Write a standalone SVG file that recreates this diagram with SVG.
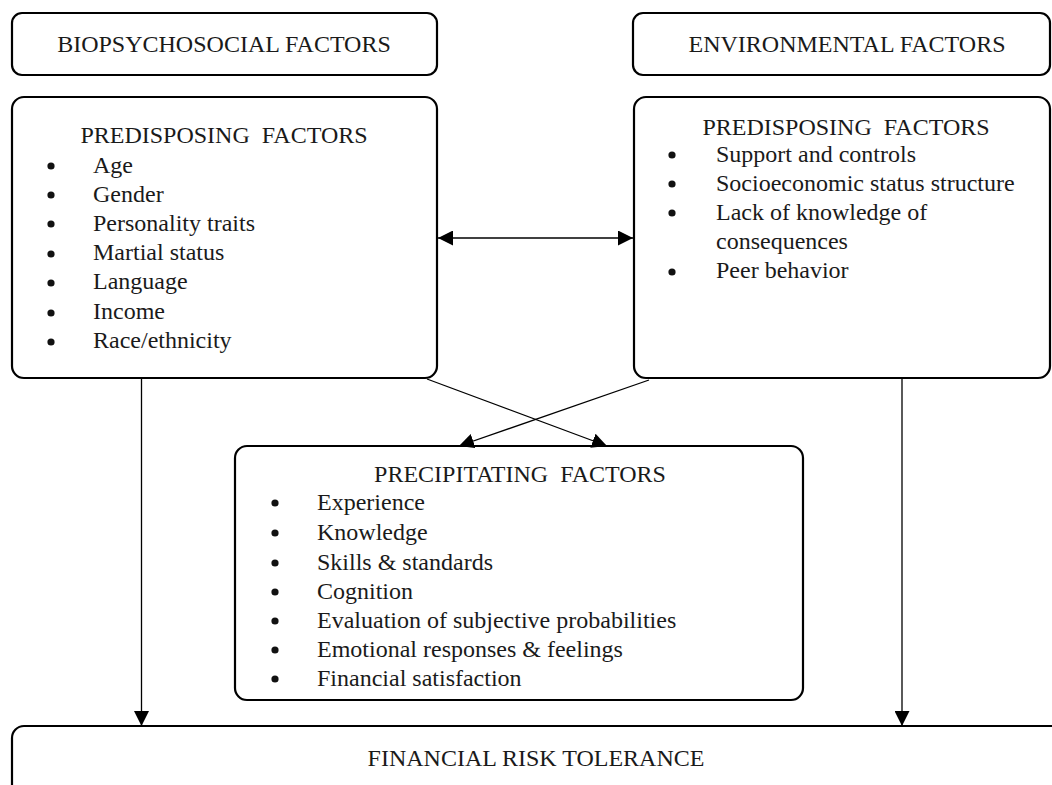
<svg xmlns="http://www.w3.org/2000/svg" width="1052" height="785" viewBox="0 0 1052 785">
  <defs>
    <style>
      .box { fill: #ffffff; stroke: #000000; stroke-width: 2.2; }
      .txt { font-family: "Liberation Serif", "Times New Roman", serif; font-size: 24px; fill: #1a1a1a; }
      .ctr { text-anchor: middle; }
      .bul { fill: #111111; }
      .link { fill: none; stroke: #000000; stroke-width: 1.3; }
    </style>
    <marker id="arrow" markerUnits="userSpaceOnUse" markerWidth="16" markerHeight="15" refX="15" refY="7.5" orient="auto-start-reverse">
      <path d="M0,0 L15,7.5 L0,15 z" fill="#000000"/>
    </marker>
  </defs>

  <rect x="0" y="0" width="1052" height="785" fill="#ffffff"/>

  <!-- Column headers -->
  <g id="biopsychosocial">
    <rect class="box" x="12" y="13" width="425" height="62" rx="10"/>
    <text class="txt ctr" x="224" y="52">BIOPSYCHOSOCIAL FACTORS</text>
  </g>

  <g id="environmental">
    <rect class="box" x="633" y="13" width="417" height="62" rx="10"/>
    <text class="txt ctr" x="847" y="52">ENVIRONMENTAL FACTORS</text>
  </g>

  <!-- Biopsychosocial predisposing factors -->
  <g id="bio-predisposing">
    <rect class="box" x="12" y="97" width="425" height="281" rx="12"/>
    <text class="txt ctr" x="224" y="143" xml:space="preserve">PREDISPOSING  FACTORS</text>
    <g class="bul">
      <circle cx="51" cy="166" r="3.6"/>
      <circle cx="51" cy="195" r="3.6"/>
      <circle cx="51" cy="224" r="3.6"/>
      <circle cx="51" cy="254" r="3.6"/>
      <circle cx="51" cy="283" r="3.6"/>
      <circle cx="51" cy="313" r="3.6"/>
      <circle cx="51" cy="342" r="3.6"/>
    </g>
    <text class="txt" x="93" y="172.5">Age</text>
    <text class="txt" x="93" y="201.5">Gender</text>
    <text class="txt" x="93" y="230.5">Personality traits</text>
    <text class="txt" x="93" y="260">Martial status</text>
    <text class="txt" x="93" y="289">Language</text>
    <text class="txt" x="93" y="319">Income</text>
    <text class="txt" x="93" y="348">Race/ethnicity</text>
  </g>

  <!-- Environmental predisposing factors -->
  <g id="env-predisposing">
    <rect class="box" x="634" y="97" width="416" height="281" rx="12"/>
    <text class="txt ctr" x="846" y="135" xml:space="preserve">PREDISPOSING  FACTORS</text>
    <g class="bul">
      <circle cx="672" cy="155" r="3.6"/>
      <circle cx="672" cy="184" r="3.6"/>
      <circle cx="672" cy="213" r="3.6"/>
      <circle cx="672" cy="272" r="3.6"/>
    </g>
    <text class="txt" x="716" y="161.5">Support and controls</text>
    <text class="txt" x="716" y="190.5">Socioeconomic status structure</text>
    <text class="txt" x="716" y="219.5">Lack of knowledge of</text>
    <text class="txt" x="716" y="248.5">consequences</text>
    <text class="txt" x="716" y="278">Peer behavior</text>
  </g>

  <!-- Precipitating factors -->
  <g id="precipitating">
    <rect class="box" x="235" y="446" width="568" height="254" rx="12"/>
    <text class="txt ctr" x="520" y="481.5" xml:space="preserve">PRECIPITATING  FACTORS</text>
    <g class="bul">
      <circle cx="275" cy="503" r="3.6"/>
      <circle cx="275" cy="533" r="3.6"/>
      <circle cx="275" cy="563" r="3.6"/>
      <circle cx="275" cy="592" r="3.6"/>
      <circle cx="275" cy="621" r="3.6"/>
      <circle cx="275" cy="650" r="3.6"/>
      <circle cx="275" cy="679" r="3.6"/>
    </g>
    <text class="txt" x="317" y="509.5">Experience</text>
    <text class="txt" x="317" y="539.5">Knowledge</text>
    <text class="txt" x="317" y="569.5">Skills &amp; standards</text>
    <text class="txt" x="317" y="598.5">Cognition</text>
    <text class="txt" x="317" y="627.5">Evaluation of subjective probabilities</text>
    <text class="txt" x="317" y="656.5">Emotional responses &amp; feelings</text>
    <text class="txt" x="317" y="685.5">Financial satisfaction</text>
  </g>

  <!-- Outcome -->
  <g id="financial-risk-tolerance">
    <rect class="box" x="12" y="726" width="1070" height="90" rx="12"/>
    <text class="txt ctr" x="536" y="766">FINANCIAL RISK TOLERANCE</text>
  </g>

  <!-- Connectors -->
  <g id="connectors">
    <line class="link" x1="438" y1="238" x2="633" y2="238" marker-start="url(#arrow)" marker-end="url(#arrow)"/>
    <line class="link" x1="427" y1="379" x2="607" y2="446" marker-end="url(#arrow)"/>
    <line class="link" x1="649" y1="380" x2="459" y2="446" marker-end="url(#arrow)"/>
    <line class="link" x1="141.5" y1="379" x2="141.5" y2="726" marker-end="url(#arrow)"/>
    <line class="link" x1="902" y1="379" x2="902" y2="726" marker-end="url(#arrow)"/>
  </g>
</svg>
